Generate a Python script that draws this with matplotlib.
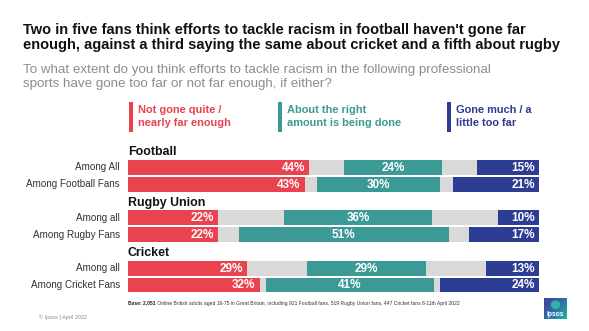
import numpy as np
import matplotlib
matplotlib.use("Agg")
import matplotlib.pyplot as plt
from matplotlib.colors import LinearSegmentedColormap

# ---------------- data ----------------
groups = ["Football", "Rugby Union", "Cricket"]
row_labels = ["Among All", "Among Football Fans",
              "Among all", "Among Rugby Fans",
              "Among all", "Among Cricket Fans"]
not_far = [44, 43, 22, 22, 29, 32]
about_right = [24, 30, 36, 51, 29, 41]
too_far = [15, 21, 10, 17, 13, 24]
legend_labels = ["Not gone quite /\nnearly far enough",
                 "About the right\namount is being done",
                 "Gone much / a\nlittle too far"]

title_lines = ["Two in five fans think efforts to tackle racism in football haven't gone far",
               "enough, against a third saying the same about cricket and a fifth about rugby"]
subtitle_lines = ["To what extent do you think efforts to tackle racism in the following professional",
                  "sports have gone too far or not far enough, if either?"]
base_bold = "Base: 2,051"
base_rest = (" Online British adults aged 16-75 in Great Britain, including 921 Football fans, "
             "519 Rugby Union fans, 447 Cricket fans 8-11th April 2022")
copyright_txt = "© Ipsos | April 2022"

# ---------------- style ----------------
RED = "#E8434F"
TEAL = "#3B9A95"
BLUE = "#2C3D93"
GREY = "#D9D9D9"
W, H = 589, 331
plt.rcParams['font.family'] = ['Liberation Sans', 'DejaVu Sans']

fig = plt.figure(figsize=(W / 100, H / 100), dpi=100)
fig.patch.set_facecolor("white")
renderer = fig.canvas.get_renderer()


def fx(x):
    return x / W


def fy(y):
    return 1 - y / H


def fit_size(s, target_w, base=10, **kw):
    t = fig.text(0, 0, s, fontsize=base, **kw)
    w = t.get_window_extent(renderer).width
    t.remove()
    return base * target_w / w


def ptext(x, y, s, **kw):
    return fig.text(fx(x), fy(y), s, **kw)


# title
ts = fit_size(title_lines[1], 539, fontweight="bold")
ptext(23, 30, title_lines[0], fontsize=ts, fontweight="bold",
      color="#111111", va="center", ha="left")
ptext(23, 45, title_lines[1], fontsize=ts, fontweight="bold",
      color="#111111", va="center", ha="left")
# subtitle
ss = fit_size(subtitle_lines[0], 468)
ptext(23, 70, subtitle_lines[0], fontsize=ss, color="#8C8C8C", va="center", ha="left")
ptext(23, 84, subtitle_lines[1], fontsize=ss, color="#8C8C8C", va="center", ha="left")

# ---------------- bars ----------------
row_pos = [1, 2, 4, 5, 7, 8]
header_pos = [0, 3, 6]
pitch = 16.8
y_center0 = 150.5
top_px = y_center0 - 0.5 * pitch
bot_px = y_center0 + 8.5 * pitch
x0_px, x1_px = 128, 539
ax = fig.add_axes([fx(x0_px), fy(bot_px), (x1_px - x0_px) / W, (bot_px - top_px) / H])
ax.set_xlim(0, 100)
ax.set_ylim(8.5, -0.5)
ax.axis("off")

nf = np.array(not_far, float)
ar = np.array(about_right, float)
tf = np.array(too_far, float)
gap = (100 - nf - ar - tf) / 2
bh = 14.8 / pitch

ax.barh(row_pos, nf, left=0, height=bh, color=RED, linewidth=0)
ax.barh(row_pos, gap, left=nf, height=bh, color=GREY, linewidth=0)
ax.barh(row_pos, ar, left=nf + gap, height=bh, color=TEAL, linewidth=0)
ax.barh(row_pos, gap, left=nf + gap + ar, height=bh, color=GREY, linewidth=0)
ax.barh(row_pos, tf, left=100 - tf, height=bh, color=BLUE, linewidth=0)

pad = 4 / (x1_px - x0_px) * 100
vs = fit_size("22%", 23.5, fontweight="bold")
rs = fit_size("Among Football Fans", 94)
hs = fit_size("Rugby Union", 77, fontweight="bold")
lab_kw = dict(color="white", fontweight="bold", fontsize=vs, va="center")
for i, yp in enumerate(row_pos):
    ax.text(nf[i] - pad, yp + 0.03, f"{not_far[i]}%", ha="right", **lab_kw)
    ax.text(nf[i] + gap[i] + ar[i] / 2, yp + 0.03, f"{about_right[i]}%", ha="center", **lab_kw)
    ax.text(100 - pad, yp + 0.03, f"{too_far[i]}%", ha="right", **lab_kw)
    ax.text(-8 / (x1_px - x0_px) * 100, yp, row_labels[i], ha="right", va="center",
            fontsize=rs, color="#333333")

for g, yp in zip(groups, header_pos):
    ax.text(0, yp + 4.7 / pitch, g, ha="left", va="baseline", fontsize=hs, fontweight="bold",
            color="#111111")

# ---------------- legend ----------------
leg_x = [129, 278, 447]
leg_c = [RED, TEAL, BLUE]
ls = fit_size("nearly far enough", 92, fontweight="bold")
for lx, lc, ll in zip(leg_x, leg_c, legend_labels):
    lax = fig.add_axes([fx(lx), fy(132), 4 / W, 30 / H])
    lax.axis("off")
    lax.add_patch(plt.Rectangle((0, 0), 1, 1, color=lc, transform=lax.transAxes))
    l1, l2 = ll.split("\n")
    ptext(lx + 9, 110, l1, fontsize=ls, fontweight="bold", color=lc, va="center", ha="left")
    ptext(lx + 9, 123.5, l2, fontsize=ls, fontweight="bold", color=lc, va="center", ha="left")

# ---------------- footnotes ----------------
tb = ptext(128, 303, base_bold, fontsize=3.6, fontweight="bold", color="#222222",
           va="center", ha="left")
bw = tb.get_window_extent(renderer).width
ptext(128 + bw, 303, base_rest, fontsize=3.6, color="#333333", va="center", ha="left")
ptext(39, 317, copyright_txt, fontsize=4, color="#8C8C8C", va="center", ha="left")

# ---------------- logo ----------------
logo = fig.add_axes([fx(544), fy(319), 23 / W, 21 / H])
logo.axis("off")
cmap = LinearSegmentedColormap.from_list("ipsos", ["#4A3A98", "#2F6FA8", "#1FB3A0"])
gx, gy = np.meshgrid(np.linspace(0, 1, 50), np.linspace(0, 1, 50))
logo.imshow(0.55 * gx + 0.45 * gy, cmap=cmap, extent=(0, 1, 0, 1), origin="upper",
            aspect="auto")
logo.add_patch(plt.Circle((0.5, 0.68), 0.17, color="#2BB7A6", transform=logo.transAxes))
logo.text(0.5, 0.22, "Ipsos", color="white", fontsize=4.8, fontweight="bold",
          ha="center", va="center", transform=logo.transAxes)
logo.set_xlim(0, 1)
logo.set_ylim(0, 1)

fig.savefig("out.png", dpi=100, facecolor="white")
